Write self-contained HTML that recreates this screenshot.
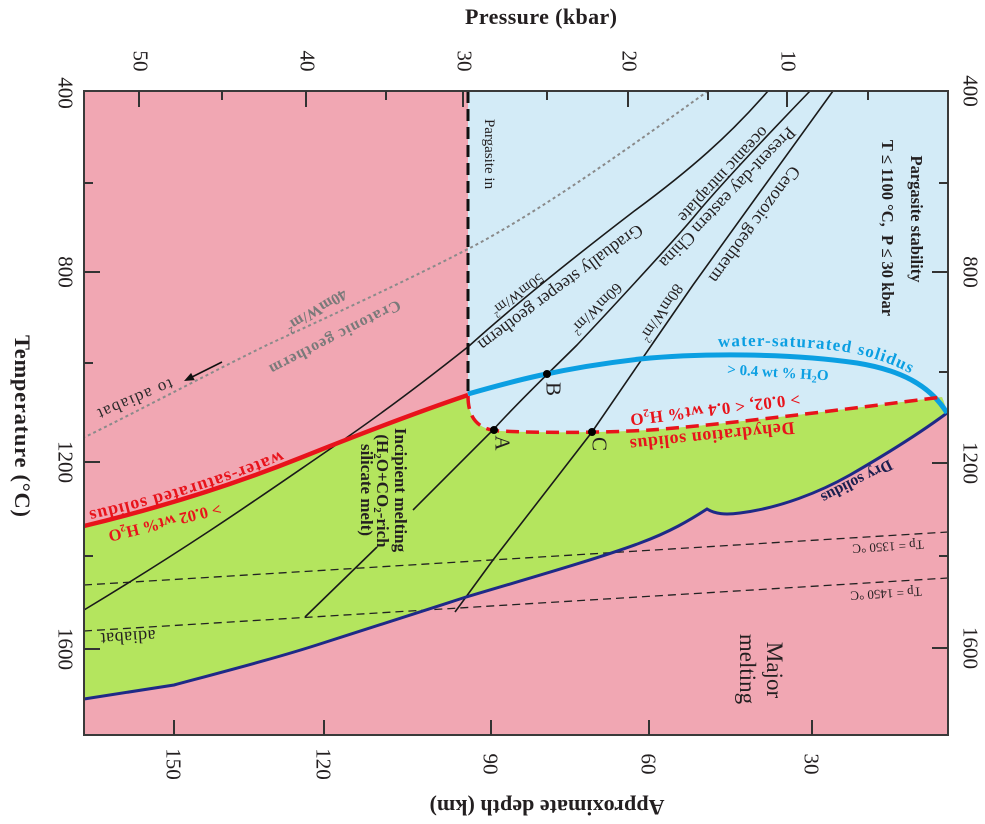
<!DOCTYPE html>
<html><head><meta charset="utf-8"><style>
html,body{margin:0;padding:0;background:#fff;}
svg{display:block;}
text{font-family:"Liberation Serif","DejaVu Serif",serif;fill:#231F20;}
</style></head><body>
<svg width="985" height="824" viewBox="0 0 985 824" xmlns="http://www.w3.org/2000/svg">
<rect width="985" height="824" fill="#fff"/>
<rect x="84" y="91" width="864" height="644" fill="#F1A7B3"/>
<path d="M468,91 L948,91 L948,413 L942,397 C840,410 720,425 650,430 C600,433 540,433 500,431 C478,430 468,418 468,396 Z" fill="#D3EBF7"/>
<path d="M84,526 Q200,498 300,458 T468,395 L468,396 C468,418 478,430 500,431 C540,433 600,433 650,430 C720,425 840,410 942,397 C944,402 946,408 947,413 C920,433 890,452 850,475 C820,492 780,508 740,513 C725,515 715,514 707,509 C690,520 670,532 640,543 C600,558 530,578 463,598 C420,612 380,625 323,643 C280,657 230,670 174,685 L84,699 Z" fill="#B4E55E"/>

<!-- adiabats -->
<path d="M84,585 L948,532 M84,631 L948,578" stroke="#222" stroke-width="1.3" stroke-dasharray="8 5" fill="none"/>
<!-- cratonic geotherm -->
<path d="M708,91 C640,140 540,212 468,249 C400,284 330,316 267,345 C200,378 140,410 85,437" stroke="#8a8a8a" stroke-width="2" stroke-dasharray="3 3" fill="none"/>
<!-- geotherms -->
<g stroke="#1a1a1a" stroke-width="1.6" fill="none">
<path d="M768,91 C730,135 690,170 633,212 C590,245 520,300 469,346 C420,385 380,415 333,447 C270,490 200,540 84,610"/>
<path d="M810,91 C780,122 720,185 693,218 C670,245 610,310 577,345 C560,362 520,400 493,430 L413,510 M377,547 L305,617"/>
<path d="M833,91 L760,192 L693,285 L653,343 L592,432 L493,560 L455,612"/>
</g>
<!-- arrow -->
<path d="M222,362 L192,377" stroke="#111" stroke-width="1.6"/>
<polygon points="184,381 194.7,380.1 191.1,372.9" fill="#111"/>

<!-- solidus curves -->
<path d="M84,699 L174,685 C230,670 280,657 323,643 C380,625 420,612 463,598 C530,578 600,558 640,543 C670,532 690,520 707,509 C715,514 725,515 740,513 C780,508 820,492 850,475 C890,452 920,433 947,413" stroke="#1E2A87" stroke-width="3" fill="none"/>
<path d="M84,526 Q200,498 300,458 T468,395" stroke="#E8131B" stroke-width="4.5" fill="none"/>
<path d="M468,394 C510,382 560,368 640,359 C700,353 790,353 857,363 C900,370 930,385 947,413" stroke="#0B9FE2" stroke-width="5" fill="none"/>
<path d="M468,396 C468,418 478,430 500,431 C540,433 600,433 650,430 C720,425 840,410 942,397" stroke="#E8131B" stroke-width="3.5" stroke-dasharray="13 7" fill="none"/>
<path d="M468,91 L468,393" stroke="#111" stroke-width="3" stroke-dasharray="12 6" fill="none"/>

<!-- points -->
<circle cx="494" cy="430" r="4" fill="#000"/>
<circle cx="547" cy="374" r="4" fill="#000"/>
<circle cx="592" cy="432" r="4" fill="#000"/>

<!-- frame & ticks -->
<rect x="84" y="91" width="864" height="644" fill="none" stroke="#3a3a3a" stroke-width="2"/>
<path d="M139,91 V107 M306,91 V107 M463,91 V107 M628,91 V107 M787,91 V107 M222,91 V100 M386,91 V100 M547,91 V100 M708,91 V100 M868,91 V100
M84,272 H100 M84,462 H100 M84,649 H100 M84,183 H93 M84,363 H93 M84,556 H93
M948,272 H932 M948,463 H932 M948,648 H932 M948,183 H939 M948,372 H939 M948,556 H939
M174,735 V720 M324,735 V720 M491,735 V720 M649,735 V720 M812,735 V720" stroke="#333" stroke-width="2" fill="none"/>

<!-- axis titles -->
<text x="541" y="24" font-size="22" font-weight="bold" text-anchor="middle" textLength="152" lengthAdjust="spacing">Pressure (kbar)</text>
<text transform="translate(15,426) rotate(90)" font-size="22.5" font-weight="bold" text-anchor="middle" textLength="182" lengthAdjust="spacing">Temperature (°C)</text>
<text transform="translate(547,800) rotate(180)" font-size="22" font-weight="bold" text-anchor="middle" textLength="235" lengthAdjust="spacing">Approximate depth (km)</text>

<!-- tick labels -->
<g font-size="21" text-anchor="middle">
<text transform="translate(141,61) rotate(90)" dy=".35em">50</text>
<text transform="translate(308,61) rotate(90)" dy=".35em">40</text>
<text transform="translate(465,61) rotate(90)" dy=".35em">30</text>
<text transform="translate(630,61) rotate(90)" dy=".35em">20</text>
<text transform="translate(789,61) rotate(90)" dy=".35em">10</text>
<text transform="translate(66,93) rotate(90)" dy=".35em">400</text>
<text transform="translate(66,272) rotate(90)" dy=".35em">800</text>
<text transform="translate(66,462) rotate(90)" dy=".35em">1200</text>
<text transform="translate(66,649) rotate(90)" dy=".35em">1600</text>
<text transform="translate(971,91) rotate(90)" dy=".35em">400</text>
<text transform="translate(971,272) rotate(90)" dy=".35em">800</text>
<text transform="translate(971,463) rotate(90)" dy=".35em">1200</text>
<text transform="translate(971,648) rotate(90)" dy=".35em">1600</text>
<text transform="translate(174,764) rotate(90)" dy=".35em">150</text>
<text transform="translate(324,764) rotate(90)" dy=".35em">120</text>
<text transform="translate(491,764) rotate(90)" dy=".35em">90</text>
<text transform="translate(649,764) rotate(90)" dy=".35em">60</text>
<text transform="translate(812,764) rotate(90)" dy=".35em">30</text>
</g>

<!-- vertical labels -->
<text transform="translate(490,154) rotate(90)" font-size="15" text-anchor="middle" dy=".35em">Pargasite in</text>
<text transform="translate(917,219) rotate(90)" font-size="16.5" font-weight="bold" text-anchor="middle" dy=".35em">Pargasite stability</text>
<text transform="translate(888,228) rotate(90)" font-size="16.5" font-weight="bold" text-anchor="middle" dy=".35em">T ≤ 1100 °C,&#160; P ≤ 30 kbar</text>
<text transform="translate(767,670) rotate(90)" font-size="23" text-anchor="middle">Major</text>
<text transform="translate(740,669) rotate(90)" font-size="23" text-anchor="middle">melting</text>
<g font-size="17" font-weight="bold" text-anchor="middle">
<text transform="translate(395,490) rotate(90)">Incipient melting</text>
<text transform="translate(377,491) rotate(90)">(H<tspan font-size="11" dy="3">2</tspan><tspan dy="-3">O+CO</tspan><tspan font-size="11" dy="3">2</tspan><tspan dy="-3">-rich</tspan></text>
<text transform="translate(361,490) rotate(90)">silicate melt)</text>
</g>
<text transform="translate(503,443) rotate(90)" font-size="21" text-anchor="middle" dy=".35em">A</text>
<text transform="translate(554,389) rotate(90)" font-size="21" text-anchor="middle" dy=".35em">B</text>
<text transform="translate(600,444) rotate(90)" font-size="21" text-anchor="middle" dy=".35em">C</text>

<!-- geotherm labels -->
<g text-anchor="middle">
<text transform="translate(561,288) rotate(143.5)" font-size="18" dy=".35em">Gradually steeper geotherm</text>
<text transform="translate(518,295) rotate(143.5)" font-size="15" dy=".35em">50mW/m<tspan font-size="9" dy="-6">2</tspan></text>
<text transform="translate(724,175) rotate(133)" font-size="17.5" dy=".35em">oceanic intraplate</text>
<text transform="translate(728,198) rotate(133.7)" font-size="18" dy=".35em">Present-day eastern China</text>
<text transform="translate(597,309) rotate(135)" font-size="16" dy=".35em">60mW/m<tspan font-size="9.5" dy="-6">2</tspan></text>
<text transform="translate(755,225) rotate(126.5)" font-size="18" dy=".35em">Cenozoic geotherm</text>
<text transform="translate(662,313) rotate(123.4)" font-size="16" dy=".35em">80mW/m<tspan font-size="9.5" dy="-6">2</tspan></text>
<text transform="translate(335,338) rotate(152.8)" font-size="16" font-weight="bold" letter-spacing="1" style="fill:#7a7a7a" dy=".35em">Cratonic geotherm</text>
<text transform="translate(317,311) rotate(149)" font-size="16" font-weight="bold" style="fill:#7a7a7a" dy=".35em">40mW/m<tspan font-size="10" dy="-6">2</tspan></text>
<text transform="translate(135,400) rotate(157)" font-size="17" letter-spacing="1.5" style="fill:#2a2a2a" dy=".35em">to adiabat</text>
<text transform="translate(165,523) rotate(166)" font-size="16.5" font-weight="bold" style="fill:#E8131B" dy=".35em">&gt; 0.02 wt% H<tspan font-size="10.5" dy="3">2</tspan><tspan dy="-3">O</tspan></text>
<text transform="translate(715,410) rotate(173)" font-size="17" font-weight="bold" letter-spacing="0.4" style="fill:#E8131B" dy=".35em">&gt; 0.02, &lt; 0.4 wt% H<tspan font-size="11" dy="3">2</tspan><tspan dy="-3">O</tspan></text>
<text transform="translate(712,437) rotate(174)" font-size="18" font-weight="bold" letter-spacing="0.6" style="fill:#E8131B" dy=".35em">Dehydration solidus</text>
<text transform="translate(857,482) rotate(153)" font-size="16" font-weight="bold" style="fill:#1b1f4f" dy=".35em">Dry solidus</text>
<text transform="translate(888,547) rotate(176.5)" font-size="13" dy=".35em">Tp = 1350 °C</text>
<text transform="translate(886,594) rotate(176.5)" font-size="13" dy=".35em">Tp = 1450 °C</text>
<text transform="translate(128,638) rotate(176.5)" font-size="18" letter-spacing="0.5" dy=".35em">adiabat</text>
<text transform="translate(778,372) rotate(3.5)" font-size="15" font-weight="bold" style="fill:#0B9FE2" dy=".35em">&gt; 0.4 wt % H<tspan font-size="10" dy="3">2</tspan><tspan dy="-3">O</tspan></text>
</g>

<!-- curved labels -->
<defs>
<path id="bluePath" d="M718,347 C780,344 835,348 865,356 C888,362 906,370 925,382"/>
<path id="redPath" d="M281,451 Q190,489 80,513"/>
</defs>
<text font-size="17" font-weight="bold" letter-spacing="1.2" style="fill:#0B9FE2"><textPath href="#bluePath">water-saturated solidus</textPath></text>
<text font-size="18" font-weight="bold" letter-spacing="1" style="fill:#E8131B"><textPath href="#redPath">water-saturated solidus</textPath></text>
</svg>
</body></html>
